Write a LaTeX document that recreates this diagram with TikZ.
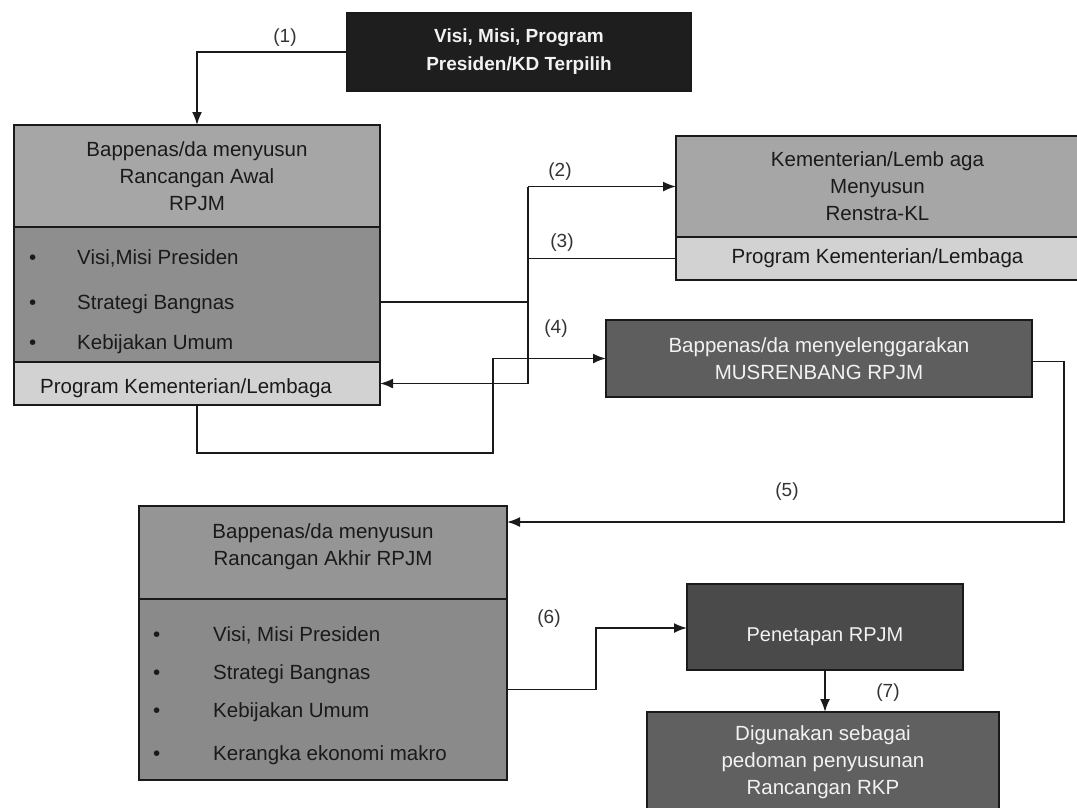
\documentclass[tikz,border=0pt]{standalone}
\usepackage{fontspec}
\setmainfont{Liberation Sans}
\usetikzlibrary{arrows.meta}
\definecolor{topfill}{HTML}{1E1E1E}
\definecolor{hdrfill}{HTML}{A6A6A6}
\definecolor{bulfill}{HTML}{8E8E8E}
\definecolor{prgfill}{HTML}{D2D2D2}
\definecolor{musfill}{HTML}{5E5E5E}
\definecolor{akhfill}{HTML}{959595}
\definecolor{akbfill}{HTML}{8A8A8A}
\definecolor{penfill}{HTML}{4A4A4A}
\definecolor{digfill}{HTML}{606060}
\definecolor{inkc}{HTML}{1A1A1A}
\definecolor{lightink}{HTML}{F2F2F2}
\tikzset{
  sect/.style={draw=inkc, line width=1.5pt, rectangle, inner sep=0pt, outer sep=0pt,
    anchor=north west, align=center, font=\fontsize{20.5}{27}\selectfont, text=inkc},
  item/.style={anchor=base west, inner sep=0pt, font=\fontsize{20.5}{27}\selectfont, text=inkc},
  conn/.style={draw=inkc, line width=1.8pt},
  arr/.style={conn, -{Latex[length=13pt,width=10pt]}},
  num/.style={font=\fontsize{19}{22}\selectfont, text=black!80, inner sep=0pt}
}
\begin{document}
\begin{tikzpicture}[x=1pt,y=-1pt]
\clip (0,0) rectangle (1077,807);
\fill[white] (0,0) rectangle (1077,807);

% top box
\node[sect, fill=topfill, text=lightink, minimum width=344pt, minimum height=78pt,
  font=\bfseries\fontsize{19}{28}\selectfont] (top) at (347,13)
  {Visi, Misi, Program\\Presiden/KD Terpilih};

% box A
\node[sect, fill=hdrfill, minimum width=366pt, minimum height=102pt] (aH) at (14,125)
  {Bappenas/da menyusun\\Rancangan Awal\\RPJM};
\node[sect, fill=bulfill, minimum width=366pt, minimum height=135pt] (aB) at (14,227) {};
\node[sect, fill=prgfill, minimum width=366pt, minimum height=43pt] (aP) at (14,362) {};
\node[item] (aP1) at (40,393) {Program Kementerian/Lembaga};
\node[item] (aB1) at (29,264) {\makebox[48pt][l]{\textbullet}Visi,Misi Presiden};
\node[item] (aB2) at (29,309) {\makebox[48pt][l]{\textbullet}Strategi Bangnas};
\node[item] (aB3) at (29,349) {\makebox[48pt][l]{\textbullet}Kebijakan Umum};

% box B
\node[sect, fill=hdrfill, minimum width=403pt, minimum height=101pt] (bH) at (676,136)
  {Kementerian/Lemb aga\\Menyusun\\Renstra-KL};
\node[sect, fill=prgfill, minimum width=403pt, minimum height=43pt] (bP) at (676,237)
  {Program Kementerian/Lembaga};

% box C
\node[sect, fill=musfill, text=lightink, minimum width=426pt, minimum height=77pt] (c) at (606,320)
  {Bappenas/da menyelenggarakan\\MUSRENBANG RPJM};

% box D
\node[sect, fill=akhfill, minimum width=368pt, minimum height=93pt] (dH) at (139,506)
  {\raisebox{6pt}[\height][\depth]{\begin{tabular}{@{}c@{}}Bappenas/da menyusun\\Rancangan Akhir RPJM\end{tabular}}};
\node[sect, fill=akbfill, minimum width=368pt, minimum height=181pt] (dB) at (139,599) {};
\node[item] (dB1) at (153,641) {\makebox[60pt][l]{\textbullet}Visi, Misi Presiden};
\node[item] (dB2) at (153,679) {\makebox[60pt][l]{\textbullet}Strategi Bangnas};
\node[item] (dB3) at (153,717) {\makebox[60pt][l]{\textbullet}Kebijakan Umum};
\node[item] (dB4) at (153,760) {\makebox[60pt][l]{\textbullet}Kerangka ekonomi makro};

% box E
\node[sect, fill=penfill, text=lightink, minimum width=276pt, minimum height=86pt,
  font=\fontsize{20}{27}\selectfont] (e) at (687,584) {\\[6pt]Penetapan RPJM};

% box F
\node[sect, fill=digfill, text=lightink, minimum width=352pt, minimum height=100pt] (f) at (647,712)
  {Digunakan sebagai\\pedoman penyusunan\\Rancangan RKP};

% junctions
\coordinate (j) at (528,0);
\coordinate (k4) at (493,453);
\coordinate (k5) at (1064,522);
\coordinate (k6) at (596,628);

% connectors
\draw[arr] (top.west) -| (aH.north);
\draw[conn] ([yshift=-7.5pt]aB.east) -- ([yshift=-7.5pt]aB.east -| j);
\draw[conn] (j |- bH.west) -- (j |- aP.east);
\draw[arr] (j |- bH.west) -- (bH.west);
\draw[conn] (bP.west) -- (bP.west -| j);
\draw[arr] (j |- aP.east) -- (aP.east);
\draw[arr] (aP.south) |- (k4) |- (c.west);
\draw[arr] ([yshift=-3pt]c.east) -| (k5) -- (k5 -| dH.east);
\draw[arr] (dB.east) -| (k6) -- (k6 -| e.west);
\draw[arr] (e.south) -- (e.south |- f.north);

% numbers
\node[num] (n1) at (285,38) {(1)};
\node[num] (n2) at (560,172) {(2)};
\node[num] (n3) at (562,243) {(3)};
\node[num] (n4) at (556,329) {(4)};
\node[num] (n5) at (787,492) {(5)};
\node[num] (n6) at (549,619) {(6)};
\node[num] (n7) at (888,693) {(7)};
\end{tikzpicture}
\end{document}
